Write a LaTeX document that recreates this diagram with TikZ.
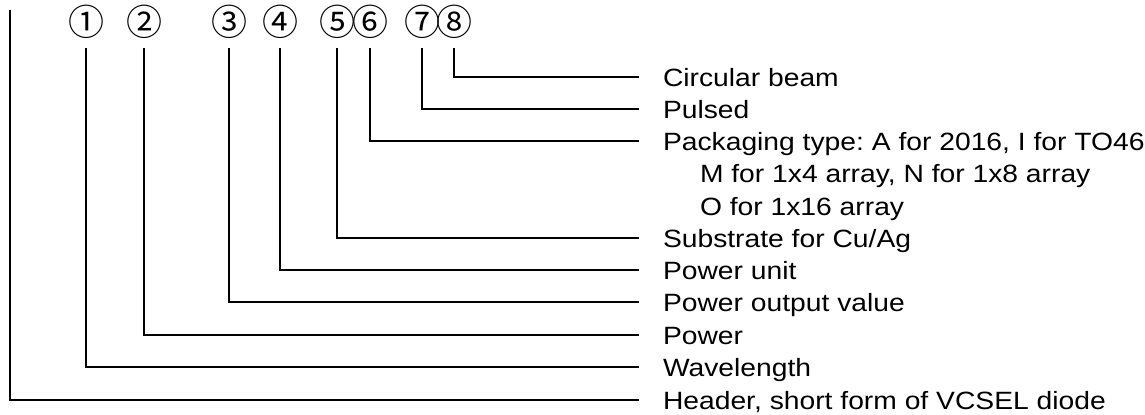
\documentclass[tikz,border=0pt]{standalone}
\usepackage{fontspec}
\setmainfont{Liberation Sans}[FakeStretch=1.13]
\newfontfamily\circfont{Noto Sans CJK JP}
\frenchspacing
\begin{document}
\begin{tikzpicture}[x=0.5pt,y=-0.5pt,line width=1pt]
            \tikzset{num/.style={font=\circfont\fontsize{18pt}{18pt}\selectfont, inner sep=0pt, minimum height=25pt},
                     lbl/.style={anchor=west, inner xsep=11.5pt, inner ysep=0pt, text height=9pt, text depth=0pt, font=\fontsize{12.5pt}{15pt}\selectfont}};
            \useasboundingbox (0,0) rectangle (1145,414);
            
            \node[num] (c1) at (86,22) {①};
            \node[num] (c2) at (144,22) {②};
            \node[num] (c3) at (229,22) {③};
            \node[num] (c4) at (280,22) {④};
            \node[num] (c5) at (337,22) {⑤};
            \node[num] (c6) at (370,22) {⑥};
            \node[num] (c7) at (422,22) {⑦};
            \node[num] (c8) at (454,22) {⑧};
            \coordinate (head) at (10,10);
            
            \node[lbl] (t8) at (639,77) {Circular beam};
            \node[lbl] (t7) at (639,109) {Pulsed};
            \node[lbl] (t6) at (639,141) {Packaging type: A for 2016, I for TO46};
            \node[lbl] (t6b) at (676,173) {M for 1x4 array, N for 1x8 array};
            \node[lbl] (t6c) at (676,206) {O for 1x16 array};
            \node[lbl] (t5) at (639,238) {Substrate for Cu/Ag};
            \node[lbl] (t4) at (639,270) {Power unit};
            \node[lbl] (t3) at (639,302) {Power output value};
            \node[lbl] (t2) at (639,335) {Power};
            \node[lbl] (t1) at (639,367) {Wavelength};
            \node[lbl] (t0) at (639,400) {Header, short form of VCSEL diode};
            
            \draw[] (c8.south) |- (t8.west);
            \draw[] (c7.south) |- (t7.west);
            \draw[] (c6.south) |- (t6.west);
            \draw[] (c5.south) |- (t5.west);
            \draw[] (c4.south) |- (t4.west);
            \draw[] (c3.south) |- (t3.west);
            \draw[] (c2.south) |- (t2.west);
            \draw[] (c1.south) |- (t1.west);
            \draw[] (head) |- (t0.west);
        \end{tikzpicture}
\end{document}
